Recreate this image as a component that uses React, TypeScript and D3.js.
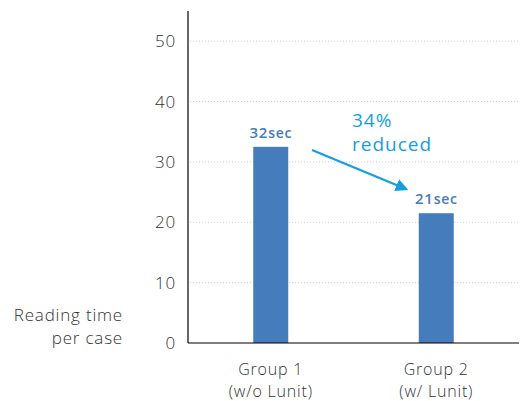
import React from "react";
import * as d3 from "d3";

const categories = ["Group 1", "Group 2"];
const subLabels = ["(w/o Lunit)", "(w/ Lunit)"];
const values = [32.5, 21.5];
const valueLabels = ["32", "21"];
const yTicks = [0, 10, 20, 30, 40, 50];
const annotation = ["34%", "reduced"];
const yTitle = ["Reading time", "per case"];

const W = 522, H = 401;
const left = 188, right = 519, top = 11, bottom = 343;
const FONT = "'Open Sans', sans-serif";

export default function App() {
  const x = d3.scaleBand().domain(categories).range([left, right]).paddingInner(0).paddingOuter(0);
  const y = d3.scaleLinear().domain([0, 55]).range([bottom, top]);
  const bw = 35;
  const arrowStart = [312, 150];
  const arrowEnd = [406, 189];
  const txt = { fontFamily: FONT, fontWeight: 300, fill: "#333", letterSpacing: 0.8 } as const;
  return (
    <svg width={W} height={H} style={{ position: "absolute", left: 0, top: 0 }}>
      <defs>
        <marker id="ah" viewBox="0 0 10 10" refX="8" refY="5" markerWidth="5.5" markerHeight="5.5" orient="auto">
          <path d="M0,0 L10,5 L0,10 z" fill="#14a0e0" />
        </marker>
      </defs>
      {yTicks.filter(t => t > 0).map(t => (
        <line key={t} x1={left + 2} x2={right} y1={y(t)} y2={y(t)} stroke="#cfcfcf" strokeWidth={1} strokeDasharray="1,2" />
      ))}
      {yTicks.map(t => (
        <text key={"t" + t} x={176} y={y(t) + 6} textAnchor="end" fontSize={17} {...txt}>{t}</text>
      ))}
      {categories.map((c, i) => {
        const cx = x(c)! + x.bandwidth() / 2;
        return (
          <g key={c}>
            <rect x={cx - bw / 2} y={y(values[i])} width={bw} height={bottom - y(values[i])} fill="#447cbc" />
            <text x={cx} y={y(values[i]) - 9} textAnchor="middle" fontFamily={FONT} fill="#447cbc" fontWeight={600} letterSpacing={0.6}>
              <tspan fontSize={15}>{valueLabels[i]}</tspan>
              <tspan fontSize={14} dx={0.5}>sec</tspan>
            </text>
            <text x={cx} y={375} textAnchor="middle" fontSize={16} {...txt}>{c}</text>
            <text x={cx} y={397} textAnchor="middle" fontSize={16} {...txt}>{subLabels[i]}</text>
          </g>
        );
      })}
      <line x1={left} x2={left} y1={top} y2={bottom} stroke="#000" strokeWidth={1.2} />
      <line x1={left} x2={right} y1={bottom} y2={bottom} stroke="#000" strokeWidth={1.2} />
      <text x={123} y={321} textAnchor="end" fontSize={17} {...txt}>{yTitle[0]}</text>
      <text x={123} y={344} textAnchor="end" fontSize={17} {...txt}>{yTitle[1]}</text>
      <text x={352} y={127} fontFamily={FONT} fontSize={19} fill="#14a0e0" fontWeight={400} letterSpacing={1}>{annotation[0]}</text>
      <text x={352} y={151} fontFamily={FONT} fontSize={19} fill="#14a0e0" fontWeight={400} letterSpacing={1}>{annotation[1]}</text>
      <line x1={arrowStart[0]} y1={arrowStart[1]} x2={arrowEnd[0]} y2={arrowEnd[1]} stroke="#14a0e0" strokeWidth={2.3} markerEnd="url(#ah)" />
    </svg>
  );
}
